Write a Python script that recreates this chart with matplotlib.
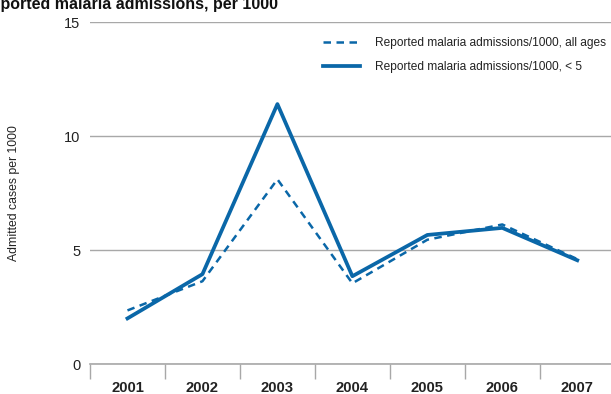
import matplotlib.pyplot as plt
import numpy as np

plt.rcParams['font.family'] = ['Liberation Sans', 'DejaVu Sans']

# data
years = ["2001", "2002", "2003", "2004", "2005", "2006", "2007"]
all_ages = [2.35, 3.63, 8.1, 3.54, 5.45, 6.12, 4.6]
under5 = [2.0, 3.94, 11.4, 3.85, 5.66, 5.97, 4.55]
yticks = [0, 5, 10, 15]

blue = '#0a67a8'
grey = '#a8a8a8'
dark = '#222222'

fig = plt.figure(figsize=(6.11, 3.94), dpi=100)
ax = fig.add_axes([90/611, 1 - 364/394, 1 - 90/611, (364 - 22)/394])

x = np.arange(len(years))
ax.plot(x, all_ages, color=blue, lw=1.8, ls=(0, (3, 2.2)),
        label="Reported malaria admissions/1000, all ages")
ax.plot(x, under5, color=blue, lw=2.7,
        label="Reported malaria admissions/1000, < 5")

ax.set_ylim(0, 15)
ax.set_xlim(-0.5, 6.45)
ax.set_yticks(yticks)
ax.yaxis.grid(True, color=grey, lw=1)
ax.set_axisbelow(True)
ax.tick_params(axis='y', length=0, pad=7, labelsize=10.5, colors=dark)

for s in ['left', 'right', 'top']:
    ax.spines[s].set_visible(False)
ax.spines['bottom'].set_color(grey)
ax.spines['bottom'].set_linewidth(1.2)

ax.set_xticks(np.arange(-0.5, 6.5, 1.0))
ax.set_xticklabels([])
ax.tick_params(axis='x', which='major', length=11, color=grey, width=1)
ax.set_xticks(x, minor=True)
ax.set_xticklabels(years, minor=True, fontweight='bold', fontsize=10.6)
ax.tick_params(axis='x', which='minor', length=0, pad=12, colors=dark)

ax.set_ylabel("Admitted cases per 1000", fontsize=8.8, color=dark)
ax.yaxis.set_label_coords(-(90 - 20)/521, (364 - 193)/342)

leg = ax.legend(loc='upper right', bbox_to_anchor=(0.99, 0.955), frameon=False,
                fontsize=8.6, handlelength=3.1, handletextpad=1.25,
                labelspacing=0.95, borderaxespad=0, borderpad=0)
for t in leg.get_texts():
    t.set_color(dark)

fig.text(-20/611, 1 - 9/394, "Reported malaria admissions, per 1000",
         fontsize=11.5, fontweight='bold', va='baseline', ha='left', color='#111111')

fig.savefig("out.png", dpi=100)
